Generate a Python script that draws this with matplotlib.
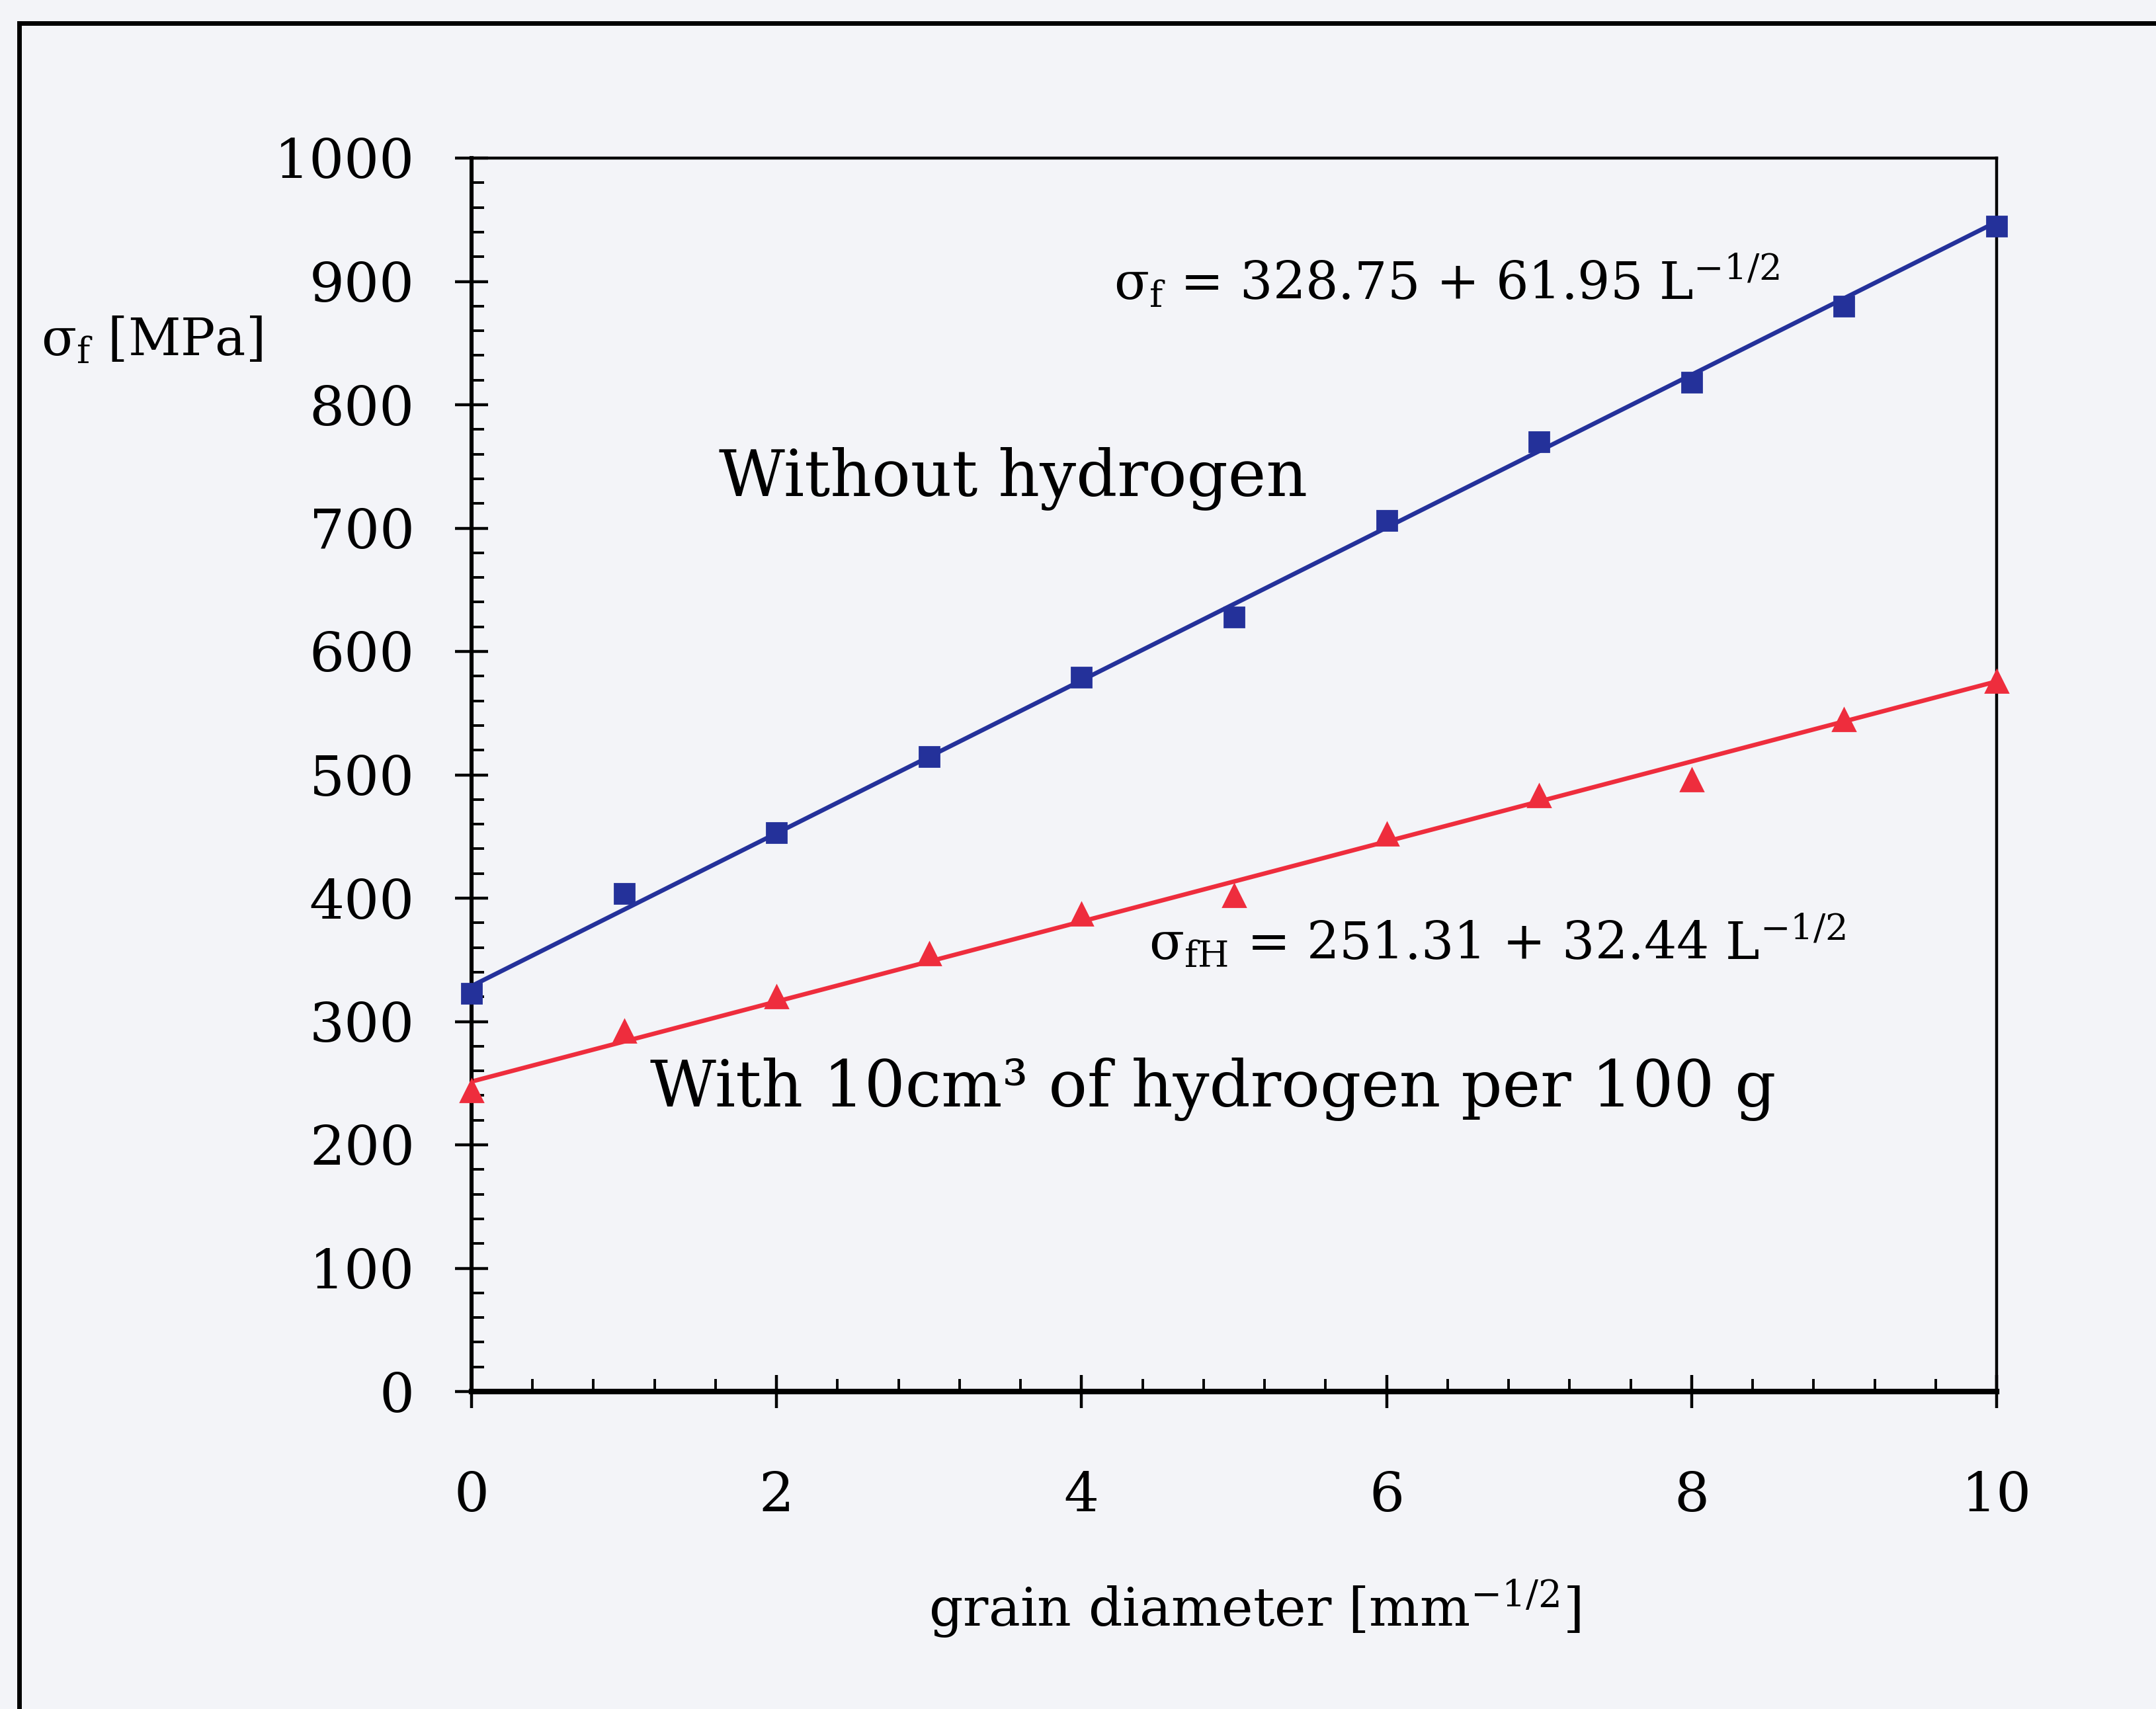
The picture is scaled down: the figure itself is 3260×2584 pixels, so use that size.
import matplotlib
matplotlib.use("Agg")
import matplotlib.pyplot as plt
from matplotlib.lines import Line2D
from matplotlib.ticker import MultipleLocator
import numpy as np

# ---- data ----
grain = [0, 1, 2, 3, 4, 5, 6, 7, 8, 9, 10]
sigma_f = [323, 404, 453, 515, 579, 628, 706, 770, 818, 880, 945]
sigma_fH = [244, 292, 320, 355, 387, 402, 452, 483, 496, 545, 576]
fit_f = (328.75, 61.95)
fit_fH = (251.31, 32.44)
x_ticks = [0, 2, 4, 6, 8, 10]
y_ticks = [0, 100, 200, 300, 400, 500, 600, 700, 800, 900, 1000]

BG = "#f3f4f8"
BLUE = "#24319a"
RED = "#ee2d3d"

plt.rcParams["font.family"] = ["DejaVu Serif"]
plt.rcParams["mathtext.fontset"] = "dejavuserif"

fig = plt.figure(figsize=(16.3, 12.92), dpi=200, facecolor=BG)
ax = fig.add_axes([713 / 3260, 1 - 2104 / 2584, (3019 - 713) / 3260, (2104 - 239) / 2584])
ax.set_facecolor(BG)

xx = np.array([grain[0], grain[-1]], dtype=float)
ax.plot(xx, fit_f[0] + fit_f[1] * xx, color=BLUE, lw=2.4, zorder=2)
ax.plot(xx, fit_fH[0] + fit_fH[1] * xx, color=RED, lw=2.4, zorder=2)
ax.plot(grain, sigma_f, ls="none", marker="s", ms=11, color=BLUE, zorder=3, clip_on=False)
ax.plot(grain, sigma_fH, ls="none", marker="^", ms=12, color=RED, zorder=3, clip_on=False)

ax.set_xlim(0, 10)
ax.set_ylim(0, 1000)
ax.set_xticks(x_ticks)
ax.set_yticks(y_ticks)
ax.xaxis.set_minor_locator(MultipleLocator(0.4))
ax.yaxis.set_minor_locator(MultipleLocator(20))
ax.tick_params(axis="both", which="major", direction="inout", length=18, width=1.6,
               labelsize=30, colors="black")
ax.tick_params(axis="x", which="major", pad=34)
ax.tick_params(axis="y", which="major", pad=22)
ax.tick_params(axis="both", which="minor", direction="in", length=7, width=1.4)
for s in ax.spines.values():
    s.set_linewidth(1.6)
ax.spines["bottom"].set_linewidth(3)
ax.spines["left"].set_linewidth(2.2)

# y label (horizontal, upper left)
fig.text(62 / 3260, 1 - 516 / 2584, "\u03c3$_{\\rm f}$ [MPa]", fontsize=28,
         ha="left", va="center")
# x label
fig.text((677 + 1148) / 2 / 1568, 1 - 1170 / 1243, r"grain diameter [mm$^{-1/2}$]",
         fontsize=29, ha="center", va="center")

# annotations
ax.text(1.62, 740, "Without hydrogen", fontsize=35, ha="left", va="center")
ax.text(4.21, 900, "\u03c3$_{\\rm f}$ = 328.75 + 61.95 L$^{-1/2}$", fontsize=28,
        ha="left", va="center")
ax.text(4.44, 365, "\u03c3$_{\\rm fH}$ = 251.31 + 32.44 L$^{-1/2}$", fontsize=28,
        ha="left", va="center")
ax.text(1.17, 245, "With 10cm\u00b3 of hydrogen per 100 g", fontsize=35,
        ha="left", va="center")

# outer frame (scan border)
fig.add_artist(Line2D([29 / 3260, 29 / 3260], [0, 1 - 35 / 2584], color="black", lw=2.5,
                      transform=fig.transFigure))
fig.add_artist(Line2D([29 / 3260, 1], [1 - 35 / 2584, 1 - 35 / 2584], color="black", lw=2.5,
                      transform=fig.transFigure))

fig.savefig("out.png", dpi=200, facecolor=BG)
